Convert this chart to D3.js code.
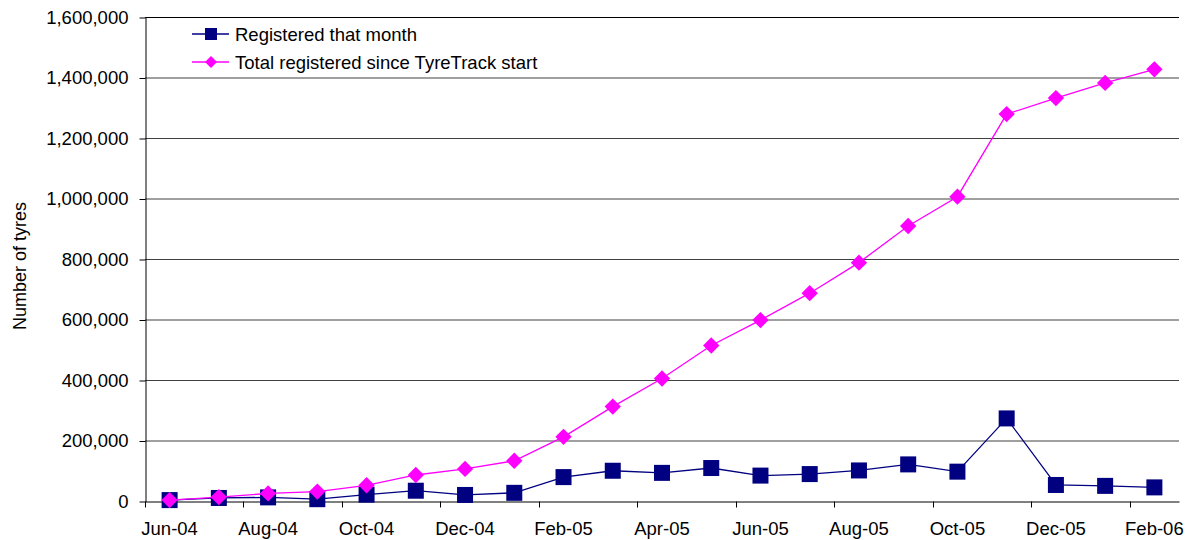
<!DOCTYPE html>
<html>
<head>
<meta charset="utf-8">
<script src="https://cdn.jsdelivr.net/npm/d3@7"></script>
<style>
  body { margin: 0; background: #fff; }
  svg { font-family: "Liberation Sans", Arial, sans-serif; }
</style>
</head>
<body>
<svg id="chart" width="1189" height="540"></svg>
<script>
const months = ["Jun-04","Jul-04","Aug-04","Sep-04","Oct-04","Nov-04","Dec-04","Jan-05","Feb-05","Mar-05","Apr-05",
  "May-05","Jun-05","Jul-05","Aug-05","Sep-05","Oct-05","Nov-05","Dec-05","Jan-06","Feb-06"];
const monthly = [3000, 10000, 12000, 6000, 21000, 34000, 20000, 27000, 79000, 100000, 93000,
  109000, 84000, 89000, 101000, 121000, 97000, 273000, 53000, 50000, 45000];
const total = [3000, 13000, 25000, 31000, 52000, 86000, 106000, 133000, 212000, 312000, 405000,
  514000, 598000, 687000, 788000, 909000, 1006000, 1279000, 1332000, 1382000, 1427000];
const yTicks = [0, 200000, 400000, 600000, 800000, 1000000, 1200000, 1400000, 1600000];
const seriesNames = ["Registered that month", "Total registered since TyreTrack start"];

const svg = d3.select("#chart");
const pLeft = 145, pRight = 1179, pTop = 17, pBottom = 501;
const fs = 18.5;

const x = d3.scaleBand().domain(months).range([pLeft, pRight]);
const y = d3.scaleLinear().domain([0, 1600000]).range([pBottom, pTop]);
const fmt = d3.format(",");

// gridlines
svg.append("g").selectAll("line")
  .data(yTicks.slice(1))
  .enter().append("line")
  .attr("x1", pLeft).attr("x2", pRight)
  .attr("y1", d => y(d) + 0.5).attr("y2", d => y(d) + 0.5)
  .attr("stroke", "#404040").attr("stroke-width", 1);

// y axis
const yAxis = svg.append("g")
  .attr("transform", "translate(" + (pLeft + 0.5) + ",0.5)")
  .call(d3.axisLeft(y).tickValues(yTicks).tickFormat(fmt).tickSize(6).tickSizeOuter(0));
yAxis.select(".domain").attr("stroke", "#000");
yAxis.selectAll(".tick line").attr("stroke", "#000");
yAxis.selectAll("text").attr("font-size", fs).attr("fill", "#000")
  .attr("font-family", "Liberation Sans, Arial, sans-serif").attr("x", -17);

// x axis
const xAxis = svg.append("g")
  .attr("transform", "translate(0," + (pBottom + 0.5) + ")")
  .call(d3.axisBottom(x).tickValues([]).tickSizeOuter(0));
xAxis.select(".domain").attr("stroke", "#000");
const bw = x.bandwidth();
xAxis.selectAll(".xt")
  .data(months.filter((m, i) => i % 2 === 0))
  .enter().append("line")
  .attr("class", "xt")
  .attr("x1", d => Math.round(x(d)) + 0.5).attr("x2", d => Math.round(x(d)) + 0.5)
  .attr("y1", 0).attr("y2", 6).attr("stroke", "#000");
xAxis.selectAll(".xl")
  .data(months.filter((m, i) => i % 2 === 0))
  .enter().append("text")
  .attr("class", "xl")
  .attr("x", d => x(d) + bw / 2)
  .attr("y", 33)
  .attr("text-anchor", "middle")
  .attr("font-size", fs)
  .attr("fill", "#000")
  .text(d => d);

// plot top border
svg.append("line")
  .attr("x1", pLeft).attr("x2", pRight)
  .attr("y1", pTop + 0.5).attr("y2", pTop + 0.5)
  .attr("stroke", "#000");

// y label
svg.append("text")
  .attr("transform", "translate(26,266) rotate(-90)")
  .attr("text-anchor", "middle")
  .attr("font-size", 18)
  .text("Number of tyres");

const line = d3.line().x((d, i) => x(months[i]) + bw / 2).y(d => y(d));

// monthly series
svg.append("path").datum(monthly)
  .attr("d", line).attr("fill", "none").attr("stroke", "#000080").attr("stroke-width", 1.3);
svg.append("g").selectAll("rect")
  .data(monthly)
  .enter().append("rect")
  .attr("x", (d, i) => x(months[i]) + bw / 2 - 8)
  .attr("y", d => y(d) - 8)
  .attr("width", 16).attr("height", 16)
  .attr("fill", "#000080");

// total series
const diamond = d3.symbol().type(d3.symbolDiamond2).size(170);
svg.append("path").datum(total)
  .attr("d", line).attr("fill", "none").attr("stroke", "#ff00ff").attr("stroke-width", 1.3);
svg.append("g").selectAll("path")
  .data(total)
  .enter().append("path")
  .attr("transform", (d, i) => "translate(" + (x(months[i]) + bw / 2) + "," + y(d) + ")")
  .attr("d", diamond)
  .attr("fill", "#ff00ff");

// legend
const legend = svg.append("g");
const colors = ["#000080", "#ff00ff"];
seriesNames.forEach((name, i) => {
  const ly = 34 + i * 28;
  legend.append("line")
    .attr("x1", 192).attr("x2", 229).attr("y1", ly).attr("y2", ly)
    .attr("stroke", colors[i]).attr("stroke-width", 1.3);
  if (i === 0) {
    legend.append("rect").attr("x", 205).attr("y", ly - 6).attr("width", 12).attr("height", 12)
      .attr("fill", colors[i]);
  } else {
    legend.append("path").attr("transform", "translate(211," + ly + ")")
      .attr("d", d3.symbol().type(d3.symbolDiamond2).size(90)).attr("fill", colors[i]);
  }
  legend.append("text")
    .attr("x", 235).attr("y", ly + 6.5)
    .attr("font-size", fs)
    .text(name);
});
</script>
</body>
</html>
